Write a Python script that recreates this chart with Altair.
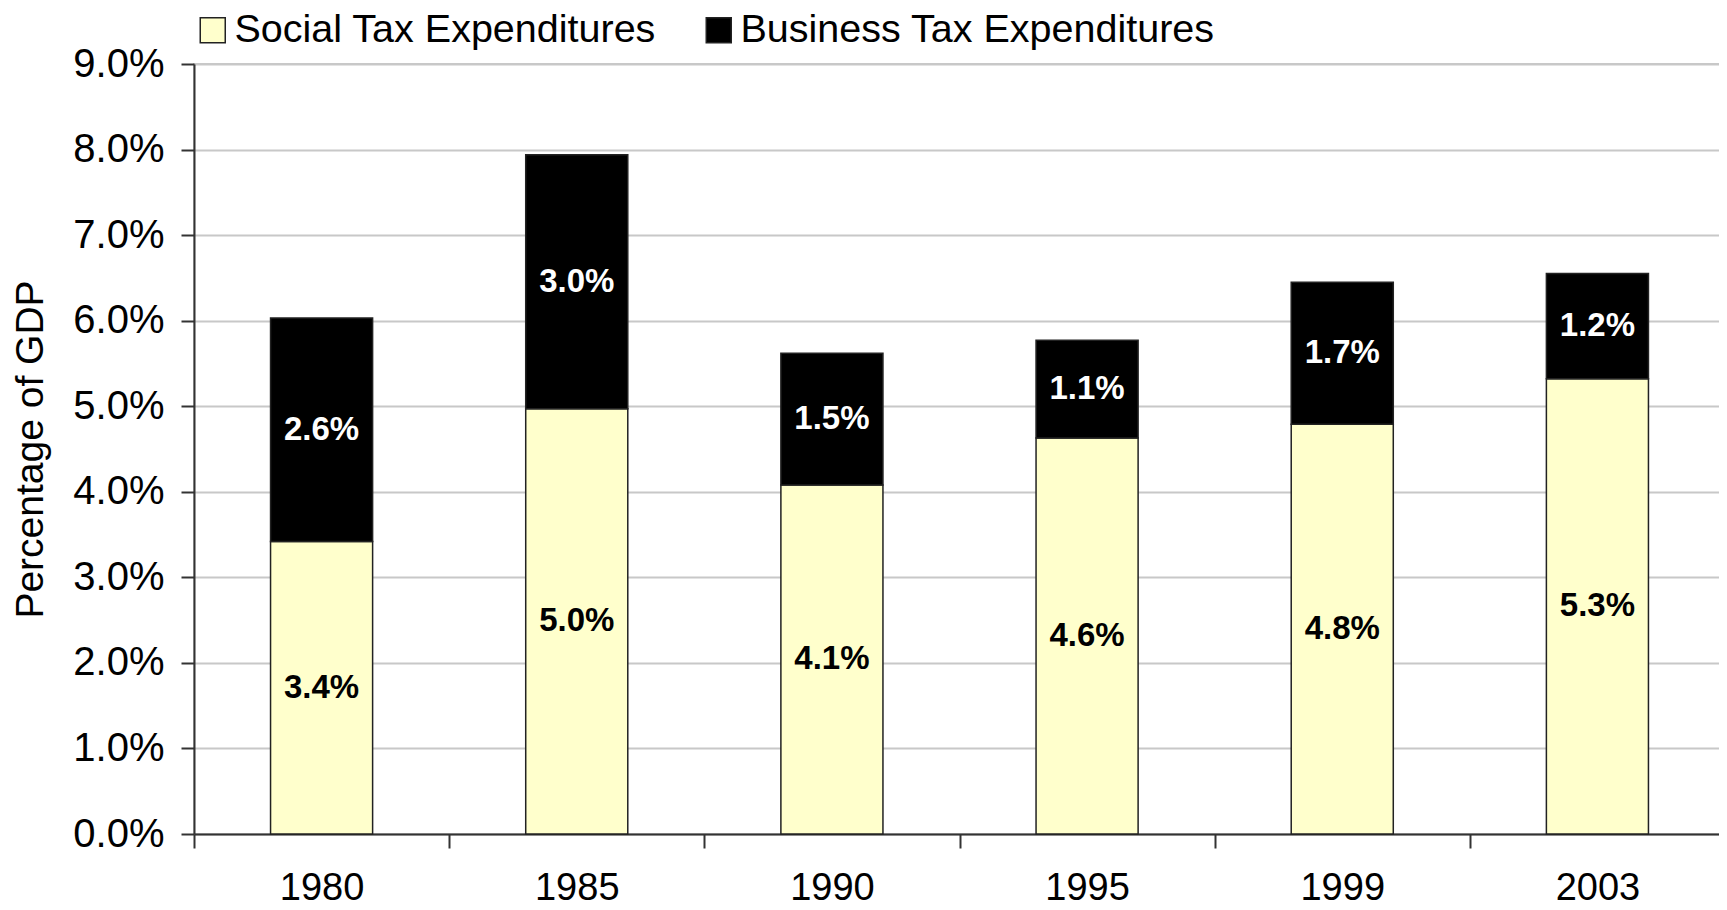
import altair as alt
import pandas as pd

years = ["1980", "1985", "1990", "1995", "1999", "2003"]
social = [3.42, 4.97, 4.08, 4.63, 4.79, 5.32]
business = [2.61, 2.97, 1.54, 1.14, 1.66, 1.23]
series = ["Social Tax Expenditures", "Business Tax Expenditures"]
colors = ["#FFFFCC", "#000000"]
y_ticks = [0, 1, 2, 3, 4, 5, 6, 7, 8, 9]

rows = []
for i, yr in enumerate(years):
    lo = 0.0
    for k, vals in enumerate([social, business]):
        v = vals[i]
        rows.append(dict(year=yr, series=series[k], value=v, lo=lo, hi=lo + v, order=k))
        lo += v
df = pd.DataFrame(rows)

FONT = "Liberation Sans"

x_enc = alt.X(
    "year:N",
    sort=years,
    title=None,
    scale=alt.Scale(paddingInner=0, paddingOuter=0),
    axis=alt.Axis(
        labelAngle=0, labelFontSize=38, labelFont=FONT, labelColor="black",
        labelPadding=21, tickSize=14, tickBand="extent", tickColor="#333",
        tickWidth=2, domainColor="#333", domainWidth=2, grid=False,
    ),
)

bars = alt.Chart(df).mark_bar(stroke="#222", strokeWidth=1.5, width={"band": 0.4}).encode(
    x=x_enc,
    y=alt.Y(
        "lo:Q",
        scale=alt.Scale(domain=[0, 9], nice=False, zero=True),
        axis=alt.Axis(
            values=y_ticks,
            labelExpr="format(datum.value, '.1f') + '%'",
            title="Percentage of GDP",
            titleFontSize=39, titleFont=FONT, titleFontWeight="normal",
            titleColor="black", titlePadding=22,
            labelFontSize=40, labelFont=FONT, labelColor="black", labelPadding=17,
            tickSize=13, tickColor="#333", tickWidth=2,
            domainColor="#333", domainWidth=2,
            gridColor="#c8c8c8", gridWidth=2,
        ),
    ),
    y2="hi:Q",
    color=alt.Color(
        "series:N",
        scale=alt.Scale(domain=series, range=colors),
        legend=alt.Legend(
            title=None, orient="none", legendX=-1, legendY=-54,
            direction="horizontal", symbolType="square", symbolSize=625,
            symbolStrokeColor="#222", symbolStrokeWidth=1.5,
            labelFontSize=39.5, labelFont=FONT, labelColor="black",
            labelOffset=2, columnPadding=42, padding=0, labelLimit=0,
        ),
    ),
)

labels = alt.Chart(df).transform_calculate(
    mid="(datum.lo + datum.hi) / 2",
    label="format(datum.value, '.1f') + '%'",
).mark_text(fontSize=33, fontWeight="bold", font=FONT, baseline="middle", align="center").encode(
    x=alt.X("year:N", sort=years),
    y=alt.Y("mid:Q"),
    text="label:N",
    color=alt.condition(alt.datum.series == series[1], alt.value("white"), alt.value("black")),
)

chart = alt.layer(bars, labels).properties(
    width=1531,
    height=770,
    autosize=alt.AutoSizeParams(type="none"),
    padding={"left": 186, "top": 56, "right": -6, "bottom": 76},
).configure_view(stroke="#c8c8c8", strokeWidth=2)

chart.save("out.html", embed_options={"renderer": "svg", "actions": False})
